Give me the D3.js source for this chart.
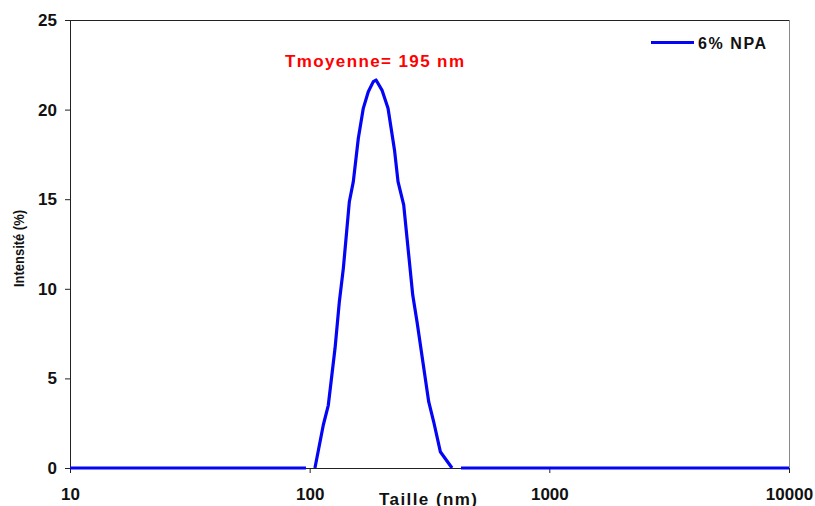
<!DOCTYPE html>
<html>
<head>
<meta charset="utf-8">
<script src="https://cdn.jsdelivr.net/npm/d3@7"></script>
<style>
  html, body { margin: 0; padding: 0; background: #fff; }
  svg { display: block; font-family: "Liberation Sans", Arial, sans-serif; font-weight: bold; }
</style>
</head>
<body>
<svg id="chart" width="815" height="506"></svg>
<script>
// ---- data ----
const seriesName = "6% NPA";
const annotation = "Tmoyenne= 195 nm";
const xTicks = [10, 100, 1000, 10000];
const yTicks = [0, 5, 10, 15, 20, 25];
const sizes = [10, 96.5, 100, 105.2, 114.0, 119.6, 127.6, 133.0, 138.2, 146.4, 152.1, 159.6, 167.4, 175.6, 184.3, 189.2,
               200.3, 212.3, 225.9, 233.7, 246.8, 269.2, 280.5, 313.8, 329.2, 350.9, 392.6, 410, 428, 10000];
const intensity = [0, 0, null, 0, 2.4, 3.5, 6.68, 9.28, 11.14, 14.86, 15.98, 18.4, 20.07, 21.0, 21.56, 21.65,
                   21.09, 20.07, 17.75, 15.98, 14.68, 9.65, 8.16, 3.70, 2.58, 0.91, 0, null, 0, 0];

// ---- layout ----
const mLeft = 70, mRight = 789, mTop = 20, mBottom = 468;
const svg = d3.select("#chart");
const x = d3.scaleLog().domain([10, 10000]).range([mLeft, mRight]);
const y = d3.scaleLinear().domain([0, 25]).range([mBottom, mTop]);

// frame (top + right)
svg.append("line").attr("x1", mLeft).attr("x2", mRight).attr("y1", mTop + 0.5).attr("y2", mTop + 0.5)
  .attr("stroke", "#222").attr("stroke-width", 1);
svg.append("line").attr("x1", mRight + 0.5).attr("x2", mRight + 0.5).attr("y1", mTop).attr("y2", mBottom)
  .attr("stroke", "#888").attr("stroke-width", 1);

// axes
const xAxis = svg.append("g").attr("transform", `translate(0,${mBottom})`)
  .call(d3.axisBottom(x).tickValues(xTicks).tickFormat(d3.format("d")).tickSize(5).tickPadding(15).tickSizeOuter(0));
const yAxis = svg.append("g").attr("transform", `translate(${mLeft},0)`)
  .call(d3.axisLeft(y).tickValues(yTicks).tickFormat(d3.format("d")).tickSize(5).tickPadding(8).tickSizeOuter(0));
[xAxis, yAxis].forEach(g => {
  g.attr("font-family", null).attr("font-size", null);
  g.select(".domain").attr("stroke", "#222");
  g.selectAll(".tick line").attr("stroke", "#222");
  g.selectAll(".tick text").attr("font-size", "17px").attr("font-weight", "bold")
    .attr("font-family", "'Liberation Sans', Arial, sans-serif").attr("fill", "#111");
});

// series line
const pts = sizes.map((s, i) => ({ s, v: intensity[i] }));
const line = d3.line().defined(d => d.v !== null).x(d => x(d.s)).y(d => y(d.v));
svg.append("path").datum(pts).attr("d", line)
  .attr("fill", "none").attr("stroke", "#0505f5").attr("stroke-width", 3.2)
  .attr("stroke-linejoin", "round").attr("stroke-linecap", "butt");

// annotation
svg.append("text").attr("x", 374.5).attr("y", 66.5).attr("text-anchor", "middle")
  .attr("font-size", "17px").attr("fill", "#ff0000")
  .attr("textLength", 179).attr("lengthAdjust", "spacing").text(annotation);

// legend
svg.append("line").attr("x1", 651).attr("x2", 694).attr("y1", 42.5).attr("y2", 42.5)
  .attr("stroke", "#0505f5").attr("stroke-width", 3);
svg.append("text").attr("x", 698).attr("y", 48.5).attr("font-size", "16px").attr("fill", "#111")
  .attr("textLength", 68).attr("lengthAdjust", "spacing").text(seriesName);

// axis titles
svg.append("text").attr("x", 428).attr("y", 504.5).attr("text-anchor", "middle")
  .attr("font-size", "17px").attr("fill", "#111")
  .attr("textLength", 98).attr("lengthAdjust", "spacing").text("Taille (nm)");
svg.append("text").attr("transform", "translate(23.5,248.5) rotate(-90)").attr("text-anchor", "middle")
  .attr("font-size", "15px").attr("font-weight", "bold").attr("fill", "#111")
  .attr("textLength", 77).attr("lengthAdjust", "spacingAndGlyphs").text("Intensité (%)");
</script>
</body>
</html>
